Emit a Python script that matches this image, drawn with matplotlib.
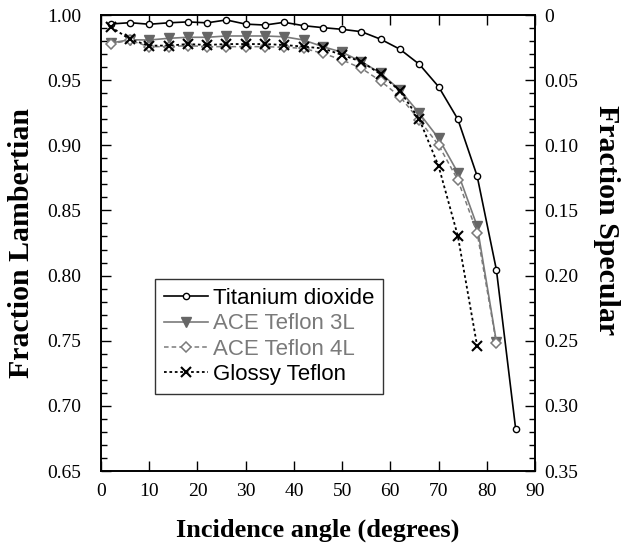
import numpy as np
import matplotlib.pyplot as plt
from matplotlib.ticker import MultipleLocator, FormatStrFormatter

# incidence angles (degrees)
angles = np.arange(2, 87, 4)

titanium = [0.9931, 0.9941, 0.9929, 0.9940, 0.9947, 0.9940, 0.9962, 0.9930,
            0.9923, 0.9944, 0.9918, 0.9903, 0.9890, 0.9872, 0.9814, 0.9737,
            0.9622, 0.9450, 0.9200, 0.8764, 0.8043, 0.6820]

ace3l = [0.9785, 0.9810, 0.9808, 0.9821, 0.9829, 0.9829, 0.9839, 0.9839,
         0.9839, 0.9833, 0.9808, 0.9757, 0.9714, 0.9642, 0.9553, 0.9424,
         0.9246, 0.9054, 0.8790, 0.8380, 0.7490]

ace4l = [0.9780, 0.9805, 0.9757, 0.9757, 0.9765, 0.9757, 0.9757, 0.9757,
         0.9757, 0.9752, 0.9744, 0.9706, 0.9655, 0.9591, 0.9493, 0.9373,
         0.9194, 0.9002, 0.8734, 0.8329, 0.7480]

glossy = [0.9910, 0.9813, 0.9765, 0.9765, 0.9777, 0.9770, 0.9777, 0.9777,
          0.9777, 0.9770, 0.9757, 0.9744, 0.9693, 0.9642, 0.9545, 0.9417,
          0.9200, 0.8841, 0.8304, 0.7460]

serif = 'Liberation Serif'
sans = 'Liberation Sans'
gray = '#7a7a7a'

fig = plt.figure(figsize=(6.23, 5.44), dpi=100)
ax = fig.add_axes([101 / 623, 1 - 471 / 544, 434 / 623, 456 / 544])

ax.plot(angles, titanium, color='black', lw=1.2, marker='o', ms=4.5,
        mfc='white', mec='black', mew=1.0, label='Titanium dioxide')
ax.plot(angles[:len(ace3l)], ace3l, color=gray, lw=1.2, marker='v', ms=7.5,
        mfc='#666666', mec='#666666', label='ACE Teflon 3L')
ax.plot(angles[:len(ace4l)], ace4l, color=gray, lw=1.1, ls=(0, (3, 2)),
        marker='D', ms=5, mfc='white', mec=gray, mew=1.1, label='ACE Teflon 4L')
ax.plot(angles[:len(glossy)], glossy, color='black', lw=1.3, ls=(0, (1.5, 1.5)),
        marker='x', ms=7, mew=1.5, label='Glossy Teflon')

ax.set_xlim(0, 90)
ax.set_ylim(0.65, 1.0)
ax.xaxis.set_major_locator(MultipleLocator(10))
ax.yaxis.set_major_locator(MultipleLocator(0.05))
ax.yaxis.set_minor_locator(MultipleLocator(0.01))
ax.yaxis.set_major_formatter(FormatStrFormatter('%.2f'))
ax.tick_params(axis='both', which='both', direction='in', top=True)
ax.tick_params(axis='both', which='major', length=7, width=1)
ax.tick_params(axis='both', which='minor', length=4, width=1)
ax.tick_params(axis='y', pad=14)
ax.tick_params(axis='x', pad=9)
for lab in ax.get_xticklabels() + ax.get_yticklabels():
    lab.set_fontfamily(serif)
    lab.set_fontsize(14)

ax2 = ax.twinx()
ax2.set_ylim(0.35, 0.0)
ax2.yaxis.set_major_locator(MultipleLocator(0.05))
ax2.yaxis.set_minor_locator(MultipleLocator(0.01))
ax2.yaxis.set_major_formatter(lambda v, p: '0' if abs(v) < 1e-9 else '%.2f' % v)
ax2.tick_params(axis='y', which='both', direction='in', pad=7)
ax2.tick_params(axis='y', which='major', length=7, width=1)
ax2.tick_params(axis='y', which='minor', length=4, width=1)
for lab in ax2.get_yticklabels():
    lab.set_fontfamily(serif)
    lab.set_fontsize(14)

for a in (ax, ax2):
    for s in a.spines.values():
        s.set_linewidth(1.2)

ax.set_xlabel('Incidence angle (degrees)', fontfamily=serif, fontsize=19,
              fontweight='bold')
ax.set_ylabel('Fraction Lambertian', fontfamily=serif, fontsize=21.5,
              fontweight='bold')
ax2.set_ylabel('Fraction Specular', fontfamily=serif, fontsize=21.5,
               fontweight='bold', rotation=270)
ax.xaxis.set_label_coords(0.5, -0.105)
ax.yaxis.set_label_coords(-0.152, 0.5)
ax2.yaxis.set_label_coords(1.195, 0.55)

leg = ax.legend(loc='upper left', bbox_to_anchor=(0.124, 0.421),
                borderaxespad=0, prop={'family': sans, 'size': 16},
                frameon=True, fancybox=False, edgecolor='black',
                handlelength=2.0, labelspacing=0.2, borderpad=0.4,
                handletextpad=0.2)
leg.get_frame().set_linewidth(1.0)
for txt, c in zip(leg.get_texts(), ['black', gray, gray, 'black']):
    txt.set_color(c)

fig.savefig('out.png', dpi=100)
